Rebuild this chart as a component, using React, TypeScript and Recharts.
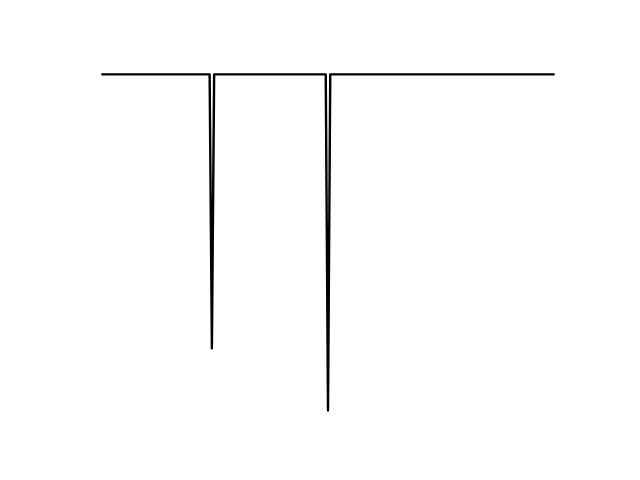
import { LineChart, Line, XAxis, YAxis } from 'recharts'

// sample index and signal level; flat baseline with two narrow dips
const SAMPLE = [0, 47.5, 48.5, 49.5, 99, 100, 101, 200]
const LEVEL = [0, 0, -81.5, 0, 0, -100, 0, 0]

const data = SAMPLE.map((x, i) => ({ x, y: LEVEL[i] }))

export default function App() {
  return (
    <div style={{ position: 'absolute', left: 0, top: 0, width: 640, height: 480, background: '#fff' }}>
      <LineChart width={640} height={480} data={data}
        margin={{ top: 57.6, right: 64, bottom: 52.8, left: 80 }}>
        <XAxis dataKey="x" type="number" domain={[-10, 210]} hide />
        <YAxis type="number" domain={[-105, 5]} hide />
        <Line dataKey="y" stroke="#000" strokeWidth={2.4} dot={false}
          strokeLinejoin="round" strokeLinecap="square" type="linear" isAnimationActive={false} />
      </LineChart>
    </div>
  )
}
